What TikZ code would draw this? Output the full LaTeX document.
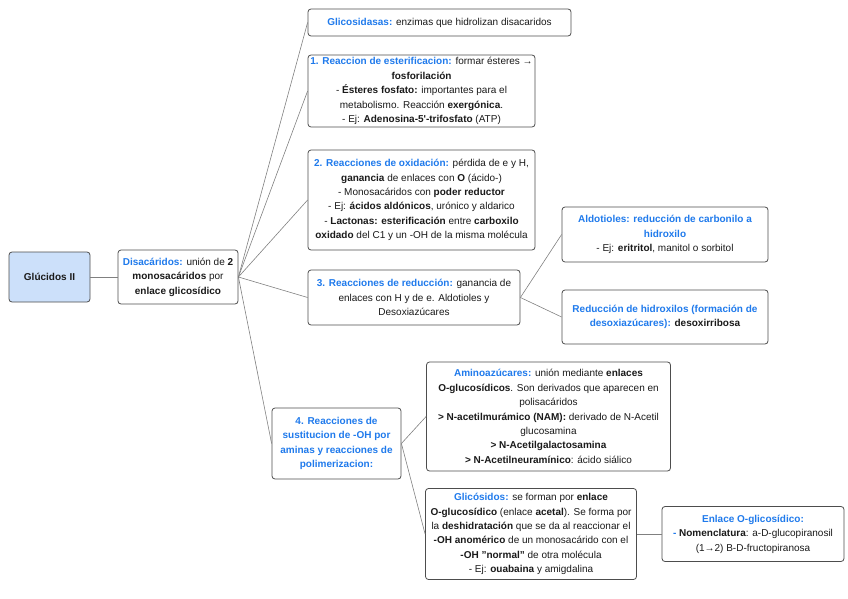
\documentclass[tikz,border=0pt]{standalone}
\usepackage{fontspec}
\setmainfont{Liberation Sans}
\definecolor{hlblue}{HTML}{1F7AEC}
\definecolor{boxline}{HTML}{4D4D4D}
\definecolor{conn}{HTML}{808080}
\definecolor{rootfill}{HTML}{CCE0FA}
\definecolor{txt}{HTML}{1A1A1A}
\newcommand{\hl}[1]{\textcolor{hlblue}{\textbf{#1}}}
\tikzset{
  mbox/.style={draw=boxline, line width=0.8pt, rounded corners=3pt, fill=white,
    align=center, inner sep=2pt, text=txt,
    font=\fontsize{10}{14.4}\selectfont},
  conline/.style={draw=conn, line width=0.6pt},
}
\begin{document}
\begin{tikzpicture}[x=1pt,y=-1pt]
\useasboundingbox (0,0) rectangle (848,599);
\node[mbox, fill=rootfill, minimum width=81pt, minimum height=50pt] (gluc) at (49.5,277) {\textbf{Glúcidos II}};
\node[mbox, minimum width=120pt, minimum height=54pt] (disa) at (178,277) {\hl{Disacáridos:} unión de \textbf{2}\\ \textbf{monosacáridos} por\\ \textbf{enlace glicosídico}};
\node[mbox, minimum width=263pt, minimum height=27pt] (glic) at (439.5,22.5) {\hl{Glicosidasas:} enzimas que hidrolizan disacaridos};
\node[mbox, minimum width=227pt, minimum height=72pt] (r1) at (421.5,91) {\hl{1. Reaccion de esterificacion:} formar ésteres →\\ \textbf{fosforilación}\\ - \textbf{Ésteres fosfato:} importantes para el\\ metabolismo. Reacción \textbf{exergónica}.\\ - Ej: \textbf{Adenosina-5\textquotesingle-trifosfato} (ATP)};
\node[mbox, minimum width=227pt, minimum height=100pt] (r2) at (421.5,200) {\hl{2. Reacciones de oxidación:} pérdida de e y H,\\ \textbf{ganancia} de enlaces con \textbf{O} (ácido-)\\ - Monosacáridos con \textbf{poder reductor}\\ - Ej: \textbf{ácidos aldónicos}, urónico y aldarico\\ - \textbf{Lactonas: esterificación} entre \textbf{carboxilo}\\ \textbf{oxidado} del C1 y un -OH de la misma molécula};
\node[mbox, minimum width=212pt, minimum height=55pt] (r3) at (414,297.5) {\hl{3. Reacciones de reducción:} ganancia de\\ enlaces con H y de e. Aldotioles y\\ Desoxiazúcares};
\node[mbox, minimum width=206pt, minimum height=55pt] (aldo) at (665,234.5) {\hl{Aldotioles: reducción de carbonilo a}\\ \hl{hidroxilo}\\ - Ej: \textbf{eritritol}, manitol o sorbitol};
\node[mbox, minimum width=206pt, minimum height=54pt] (redh) at (665,317) {\hl{Reducción de hidroxilos (formación de}\\ \hl{desoxiazúcares):} \textbf{desoxirribosa}};
\node[mbox, minimum width=129pt, minimum height=71pt] (r4) at (336.5,443.5) {\hl{4. Reacciones de}\\ \hl{sustitucion de -OH por}\\ \hl{aminas y reacciones de}\\ \hl{polimerizacion:}};
\node[mbox, minimum width=244pt, minimum height=109pt] (amino) at (548.5,416.5) {\hl{Aminoazúcares:} unión mediante \textbf{enlaces}\\ \textbf{O-glucosídicos}. Son derivados que aparecen en\\ polisacáridos\\ \textbf{> N-acetilmurámico (NAM):} derivado de N-Acetil\\ glucosamina\\ \textbf{> N-Acetilgalactosamina}\\ \textbf{> N-Acetilneuramínico}: ácido siálico};
\node[mbox, minimum width=211pt, minimum height=91pt] (glico) at (531,534) {\hl{Glicósidos:} se forman por \textbf{enlace}\\ \textbf{O-glucosídico} (enlace \textbf{acetal}). Se forma por\\ la \textbf{deshidratación} que se da al reaccionar el\\ \textbf{-OH anomérico} de un monosacárido con el\\ \textbf{-OH "normal"} de otra molécula\\ - Ej: \textbf{ouabaina} y amigdalina};
\node[mbox, minimum width=182pt, minimum height=55pt] (enl) at (753,534) {\hl{Enlace O-glicosídico:}\\ \hl{-} \textbf{Nomenclatura}: a-D-glucopiranosil\\ (1→2) B-D-fructopiranosa};
\draw[conline] (gluc.east) -- (disa.west);
\draw[conline] (disa.east) -- (glic.west);
\draw[conline] (disa.east) -- (r1.west);
\draw[conline] (disa.east) -- (r2.west);
\draw[conline] (disa.east) -- (r3.west);
\draw[conline] (disa.east) -- (r4.west);
\draw[conline] (r3.east) -- (aldo.west);
\draw[conline] (r3.east) -- (redh.west);
\draw[conline] (r4.east) -- (amino.west);
\draw[conline] (r4.east) -- (glico.west);
\draw[conline] (glico.east) -- (enl.west);
\end{tikzpicture}
\end{document}
